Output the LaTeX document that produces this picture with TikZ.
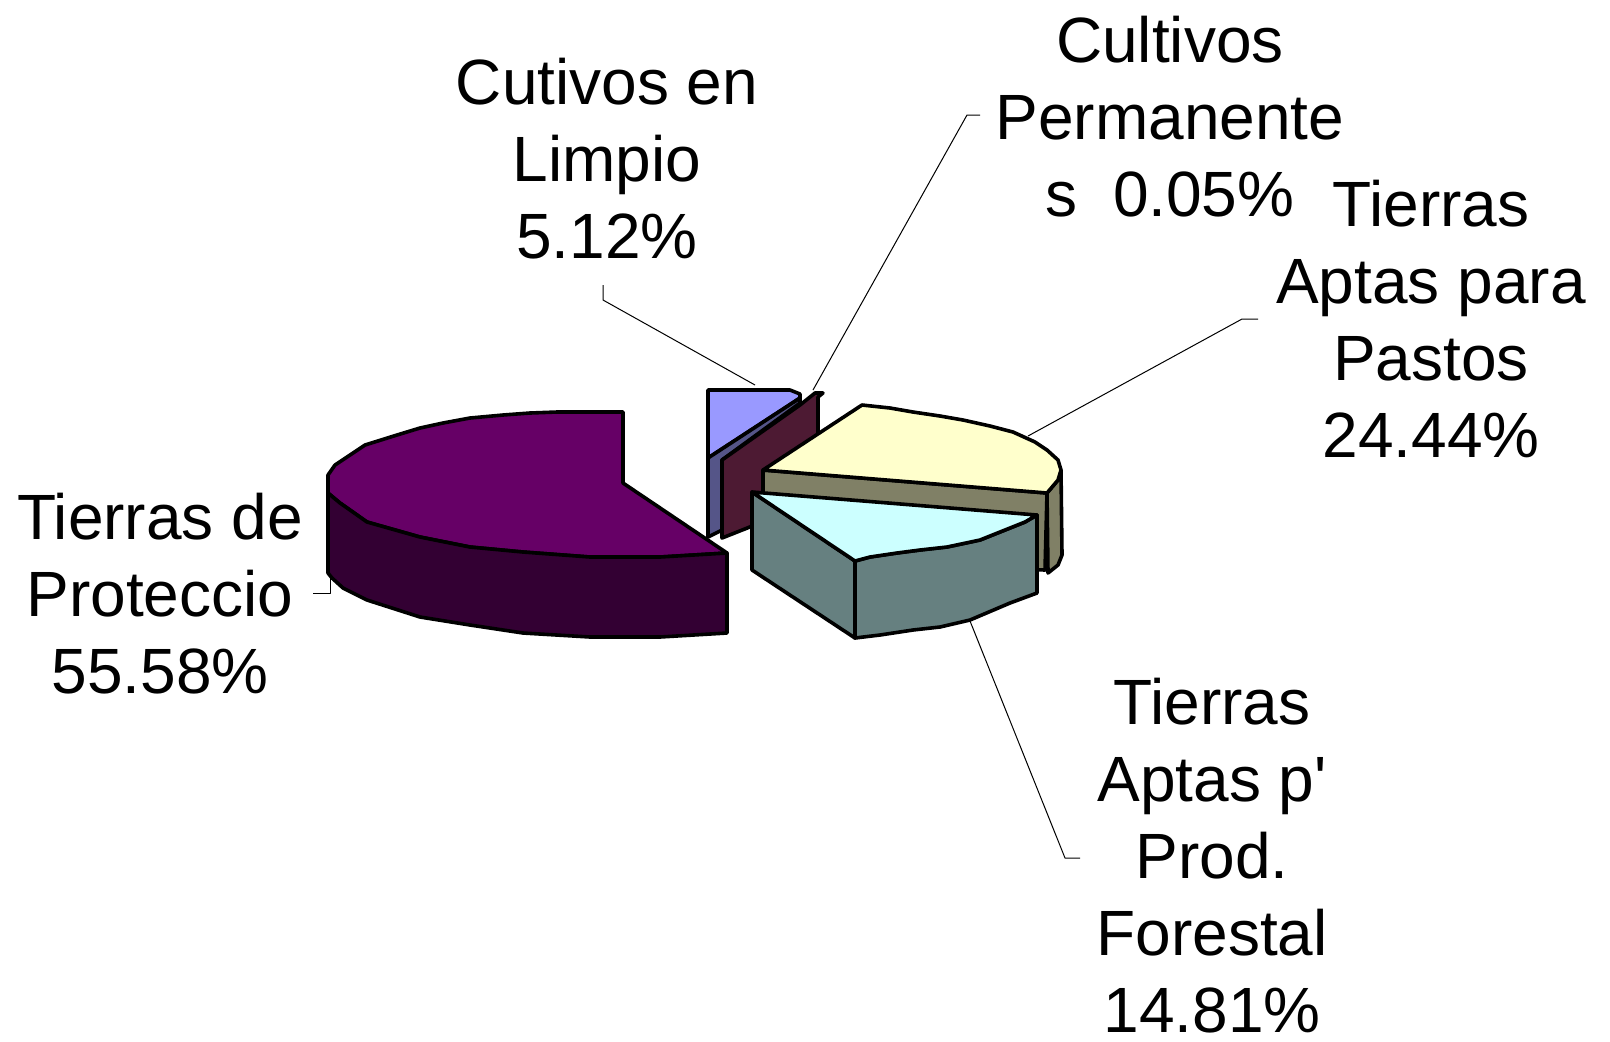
\documentclass[tikz,border=0pt]{standalone}
\usepackage{fontspec}
\setmainfont{Liberation Sans}
\usetikzlibrary{positioning}

\definecolor{protTop}{HTML}{660066}
\definecolor{protSide}{HTML}{330033}
\definecolor{limpTop}{HTML}{9999FF}
\definecolor{limpSide}{HTML}{555588}
\definecolor{permSide}{HTML}{4D1A33}
\definecolor{pastTop}{HTML}{FFFFCC}
\definecolor{pastSide}{HTML}{808066}
\definecolor{forTop}{HTML}{CCFFFF}
\definecolor{forSide}{HTML}{668080}

\begin{document}
\begin{tikzpicture}[x=0.5pt, y=-0.5pt, line join=round]
\tikzstyle{slice}=[draw=black, line width=1.8pt]
\tikzstyle{leader}=[draw=black, line width=0.5pt]
\tikzstyle{lbl}=[align=center, inner sep=0pt, font=\fontsize{32}{38.5}\selectfont]
\useasboundingbox (0,0) rectangle (1610,1041);

% Tierras de Proteccion
\filldraw[slice, fill=protTop] (328,475) -- (335,465) -- (350,455) -- (365,445) -- (397,435) -- (420,428) -- (443,423) -- (470,418) -- (503,415) -- (530,413) -- (557,412) -- (623,412) -- (623,483) -- (727,553) -- (660,557) -- (590,557) -- (523,552) -- (470,547) -- (420,537) -- (367,522) -- (350,510) -- (340,503) -- (328,493) -- cycle;
\filldraw[slice, fill=protSide] (328,493) -- (340,503) -- (350,510) -- (367,522) -- (420,537) -- (470,547) -- (523,552) -- (590,557) -- (660,557) -- (727,553) -- (727,633) -- (660,637) -- (590,637) -- (523,633) -- (470,625) -- (420,617) -- (367,600) -- (343,588) -- (332,578) -- (328,573) -- cycle;

% Cultivos en Limpio
\filldraw[slice, fill=limpTop] (708,390) -- (790,390) -- (800,394) -- (800,398) -- (708,458) -- cycle;
\filldraw[slice, fill=limpSide] (708,458) -- (800,398) -- (800,403) -- (722,460) -- (722,530) -- (708,537) -- cycle;

% Cultivos Permanentes
\filldraw[slice, fill=permSide] (722,460) -- (800,405) -- (815,393) -- (823,393) -- (818,397) -- (818,500) -- (722,538) -- cycle;

% Tierras Aptas para Pastos
\filldraw[slice, fill=pastSide] (763,470) -- (1047,493) -- (1045,570) -- (763,560) -- cycle;
\filldraw[slice, fill=pastSide] (1047,493) -- (1058,480) -- (1061,470) -- (1062,555) -- (1058,565) -- (1048,573) -- cycle;
\filldraw[slice, fill=pastTop] (763,470) -- (862,405) -- (890,408) -- (913,412) -- (940,416) -- (963,420) -- (990,426) -- (1013,432) -- (1035,442) -- (1047,450) -- (1058,460) -- (1061,470) -- (1058,480) -- (1047,493) -- cycle;

% Tierras Aptas p' Prod. Forestal
\filldraw[slice, fill=forSide] (752,492) -- (855,561) -- (855,638) -- (752,570) -- cycle;
\filldraw[slice, fill=forSide] (855,561) -- (870,557) -- (897,553) -- (920,550) -- (947,547) -- (980,540) -- (1000,532) -- (1025,522) -- (1037,515) -- (1037,593) -- (1010,603) -- (970,620) -- (940,627) -- (913,630) -- (880,635) -- (855,638) -- cycle;
\filldraw[slice, fill=forTop] (752,492) -- (1037,515) -- (1025,522) -- (1000,532) -- (980,540) -- (947,547) -- (920,550) -- (897,553) -- (870,557) -- (855,561) -- cycle;

% labels
\node[lbl] (limpio) at (607,159) {Cutivos en\\Limpio\\5.12\%};
\node[lbl] (perm) at (1170,117) {Cultivos\\Permanente\\s\ \ 0.05\%};
\node[lbl] (pastos) at (1431,319) {Tierras\\Aptas para\\Pastos\\24.44\%};
\node[lbl] (prot) at (160,594) {Tierras de\\Proteccio\\55.58\%};
\node[lbl] (forest) at (1212,856) {Tierras\\Aptas p\textquotesingle\\Prod.\\Forestal\\14.81\%};

% leader lines
\coordinate (limpio-a) at (603,285);
\coordinate (limpio-b) at (603,300);
\coordinate (limpio-c) at (755,385);
\coordinate (perm-a) at (980,115);
\coordinate (perm-b) at (967,115);
\coordinate (perm-c) at (813,390);
\coordinate (pastos-a) at (1258,319);
\coordinate (pastos-b) at (1242,319);
\coordinate (pastos-c) at (1028,436);
\coordinate (forest-a) at (1080,858);
\coordinate (forest-b) at (1065,858);
\coordinate (forest-c) at (970,621);
\coordinate (prot-a) at (313,593);
\coordinate (prot-b) at (330,593);
\coordinate (prot-c) at (330,575);
\draw[leader] (limpio-a) -- (limpio-b) -- (limpio-c);
\draw[leader] (perm-a) -- (perm-b) -- (perm-c);
\draw[leader] (pastos-a) -- (pastos-b) -- (pastos-c);
\draw[leader] (forest-a) -- (forest-b) -- (forest-c);
\draw[leader] (prot-a) -- (prot-b) -- (prot-c);
\end{tikzpicture}
\end{document}
